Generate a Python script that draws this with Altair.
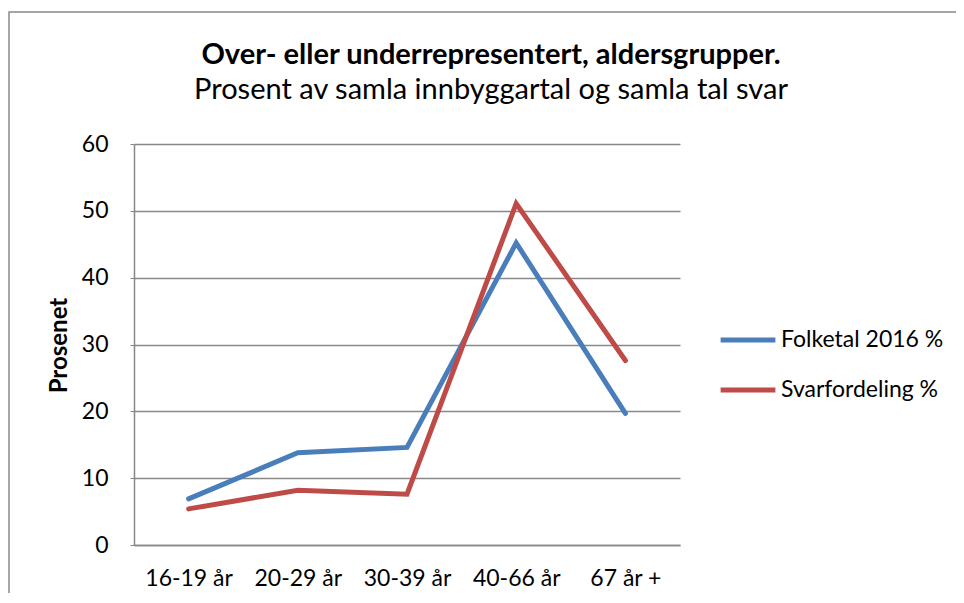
import altair as alt
import pandas as pd

categories = ["16-19 år", "20-29 år", "30-39 år", "40-66 år", "67 år +"]
folketal = [6.9, 13.8, 14.6, 45.2, 19.7]
svar = [5.4, 8.2, 7.6, 51.1, 27.6]
series_names = ["Folketal 2016 %", "Svarfordeling %"]
colors = ["#4A7EBB", "#BE4B48"]
y_ticks = [0, 10, 20, 30, 40, 50, 60]

rows = []
for c, v in zip(categories, folketal):
    rows.append({"kategori": c, "verdi": v, "serie": series_names[0]})
for c, v in zip(categories, svar):
    rows.append({"kategori": c, "verdi": v, "serie": series_names[1]})
df = pd.DataFrame(rows)

FONT = "Lato"

border = alt.Chart(pd.DataFrame({"a": [0]})).mark_rect(
    filled=False, stroke="#888888", strokeWidth=1.5, clip=False
).encode(
    x=alt.value(-125), y=alt.value(-132), x2=alt.value(900), y2=alt.value(560)
)

lines = alt.Chart(df).mark_line(strokeWidth=5, strokeCap="round").encode(
    x=alt.X(
        "kategori:N",
        sort=categories,
        scale=alt.Scale(paddingInner=0, paddingOuter=0.5),
        axis=alt.Axis(
            title=None,
            labelAngle=0,
            ticks=False,
            domain=True,
            domainColor="#888888",
            domainWidth=1.5,
            grid=False,
            labelFont=FONT,
            labelFontSize=23,
            labelColor="#000000",
            labelPadding=22,
        ),
    ),
    y=alt.Y(
        "verdi:Q",
        scale=alt.Scale(domain=[0, 60], nice=False),
        axis=alt.Axis(
            title="Prosenet",
            values=y_ticks,
            titleFont=FONT,
            titleFontSize=24,
            titleFontWeight="bold",
            titleColor="#000000",
            titleX=-75,
            titleY=201,
            titleAngle=-90,
            titleBaseline="middle",
            titleAlign="center",
            labelFont=FONT,
            labelFontSize=23,
            labelColor="#000000",
            labelPadding=22,
            tickSize=4,
            tickColor="#888888",
            domainColor="#888888",
            domainWidth=1.5,
            gridColor="#888888",
            gridWidth=1.5,
        ),
    ),
    color=alt.Color(
        "serie:N",
        sort=series_names,
        scale=alt.Scale(domain=series_names, range=colors),
        legend=alt.Legend(
            title=None,
            orient="none",
            legendX=584,
            legendY=166,
            symbolType="stroke",
            symbolSize=3000,
            symbolStrokeWidth=5,
            labelFont=FONT,
            labelFontSize=23,
            labelColor="#000000",
            labelOffset=3,
            labelLimit=300,
            rowPadding=8,
        ),
    ),
)

chart = alt.layer(border, lines).properties(
    width=546,
    height=401,
    padding={"left": 126, "top": 136, "right": 276, "bottom": 48},
    autosize=alt.AutoSizeParams(type="none"),
    title=alt.TitleParams(
        text="Over- eller underrepresentert, aldersgrupper.",
        subtitle="Prosent av samla innbyggartal og samla tal svar",
        font=FONT,
        fontSize=29,
        fontWeight="bold",
        color="#000000",
        subtitleFont=FONT,
        subtitleFontSize=29,
        subtitleColor="#000000",
        subtitlePadding=6,
        anchor="middle",
        dx=84,
        offset=-94,
    ),
).configure_view(stroke=None)

chart.save("out.html", embed_options={"renderer": "svg", "actions": False})
